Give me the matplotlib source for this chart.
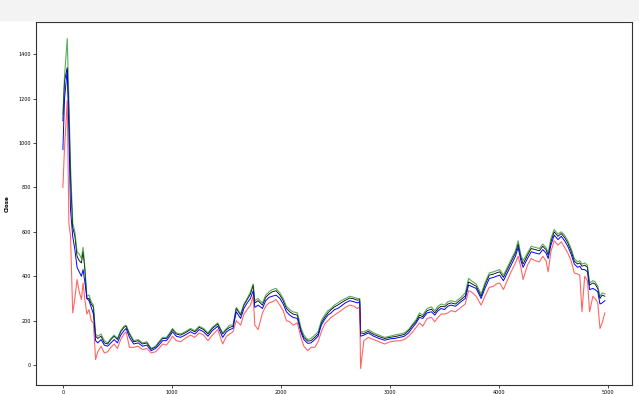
import matplotlib
matplotlib.use("Agg")
import matplotlib.pyplot as plt
from matplotlib.patches import Rectangle

# day index
idx = [0, 15, 40, 55, 70, 90, 110, 130, 150, 170,
       185, 200, 220, 240, 260, 280, 300, 320, 350, 380,
       410, 440, 470, 500, 530, 560, 580, 610, 650, 690,
       730, 770, 810, 850, 880, 915, 950, 980, 1005, 1040,
       1080, 1120, 1170, 1210, 1250, 1290, 1330, 1370, 1420, 1465,
       1500, 1530, 1560, 1590, 1630, 1660, 1690, 1720, 1745, 1760,
       1790, 1830, 1860, 1890, 1920, 1955, 1990, 2020, 2050, 2080,
       2110, 2150, 2185, 2210, 2245, 2275, 2310, 2340, 2370, 2400,
       2430, 2460, 2490, 2520, 2550, 2590, 2630, 2670, 2700, 2722,
       2730, 2760, 2800, 2850, 2900, 2950, 3000, 3040, 3090, 3130,
       3170, 3200, 3240, 3270, 3300, 3340, 3380, 3410, 3440, 3470,
       3500, 3530, 3560, 3600, 3650, 3690, 3720, 3745, 3790, 3835,
       3870, 3910, 3950, 3975, 4005, 4040, 4070, 4110, 4150, 4175,
       4200, 4220, 4260, 4295, 4330, 4370, 4400, 4430, 4450, 4475,
       4505, 4540, 4570, 4600, 4630, 4660, 4690, 4720, 4740, 4760,
       4785, 4810, 4830, 4860, 4880, 4905, 4925, 4945, 4970]

close = [1100, 1280, 1340, 1150, 850, 620, 580, 490, 470, 460,
         510, 440, 300, 300, 275, 260, 130, 120, 130, 100,
         95, 115, 130, 115, 150, 170, 175, 140, 105, 110,
         95, 100, 72, 82, 100, 120, 120, 140, 160, 140,
         135, 145, 160, 150, 170, 160, 140, 165, 185, 140,
         160, 170, 175, 255, 225, 270, 295, 320, 360, 280,
         290, 270, 305, 320, 330, 335, 315, 290, 255, 240,
         230, 225, 155, 125, 108, 110, 125, 140, 190, 215,
         235, 250, 262, 270, 280, 292, 302, 298, 292, 295,
         145, 142, 152, 138, 128, 120, 125, 128, 133, 138,
         155, 175, 198, 225, 218, 245, 252, 235, 255, 265,
         262, 275, 280, 275, 295, 312, 375, 368, 355, 310,
         360, 405, 410, 415, 420, 395, 425, 465, 505, 545,
         485, 455, 495, 525, 520, 515, 535, 520, 495, 555,
         600, 580, 592, 575, 550, 515, 468, 455, 460, 445,
         450, 440, 360, 370, 365, 345, 300, 315, 310]

upper = [1130, 1300, 1470, 1200, 900, 640, 600, 510, 500, 480,
         530, 450, 310, 315, 285, 270, 140, 130, 140, 110,
         100, 120, 135, 120, 155, 175, 180, 145, 110, 115,
         100, 105, 75, 85, 105, 125, 125, 145, 165, 145,
         140, 150, 165, 155, 175, 165, 145, 170, 190, 145,
         165, 180, 180, 260, 230, 275, 300, 330, 365, 290,
         300, 280, 315, 330, 340, 345, 325, 300, 265, 250,
         240, 235, 165, 135, 115, 120, 135, 150, 200, 225,
         245, 255, 270, 280, 290, 300, 310, 305, 300, 300,
         150, 150, 160, 145, 135, 125, 130, 135, 140, 145,
         160, 180, 205, 235, 225, 255, 262, 245, 265, 275,
         270, 285, 290, 285, 305, 325, 390, 380, 365, 320,
         370, 415, 420, 425, 430, 405, 435, 475, 515, 560,
         495, 470, 505, 535, 530, 525, 545, 530, 505, 570,
         610, 590, 600, 585, 560, 525, 480, 465, 470, 455,
         460, 450, 370, 380, 375, 355, 310, 325, 320]

middle = [970, 1200, 1330, 1050, 700, 580, 520, 440, 420, 400,
          430, 380, 300, 290, 260, 230, 110, 100, 115, 90,
          85, 100, 115, 100, 135, 155, 165, 125, 95, 100,
          85, 90, 65, 75, 90, 110, 110, 130, 150, 130,
          125, 135, 150, 140, 160, 150, 130, 155, 175, 125,
          150, 160, 165, 240, 210, 255, 280, 300, 335, 260,
          270, 255, 290, 305, 310, 315, 300, 275, 240, 225,
          215, 210, 145, 115, 98, 100, 115, 130, 180, 205,
          225, 235, 250, 255, 265, 280, 290, 285, 280, 285,
          130, 135, 145, 130, 120, 112, 118, 120, 125, 130,
          145, 165, 190, 215, 210, 235, 240, 225, 245, 255,
          250, 265, 270, 265, 285, 300, 360, 355, 345, 300,
          345, 390, 395, 400, 405, 380, 410, 450, 490, 530,
          470, 440, 480, 510, 505, 500, 520, 505, 480, 540,
          585, 565, 580, 560, 535, 500, 455, 440, 445, 430,
          430, 420, 340, 345, 340, 330, 275, 280, 290]

lower = [800, 980, 1190, 640, 580, 235, 300, 385, 330, 295,
         370, 300, 230, 250, 200, 190, 25, 60, 85, 55,
         60, 80, 95, 75, 115, 140, 150, 80, 80, 85,
         70, 75, 55, 60, 75, 95, 90, 110, 130, 110,
         105, 120, 135, 125, 145, 135, 110, 135, 160, 95,
         130, 140, 150, 200, 180, 230, 250, 270, 310, 180,
         160, 235, 265, 280, 285, 295, 270, 245, 200, 195,
         180, 190, 120, 85, 65, 80, 80, 105, 150, 185,
         200, 215, 225, 235, 245, 260, 270, 265, 255, 262,
         -15, 110, 125, 115, 105, 95, 105, 108, 110, 115,
         130, 145, 170, 190, 175, 210, 215, 195, 215, 230,
         230, 235, 245, 240, 260, 275, 335, 330, 310, 270,
         310, 350, 355, 365, 370, 340, 375, 420, 460, 490,
         440, 385, 450, 480, 470, 465, 490, 470, 420, 510,
         560, 540, 555, 530, 505, 470, 415, 410, 405, 240,
         400, 380, 240, 310, 300, 280, 165, 190, 235]

assert len(idx) == len(close) == len(upper) == len(middle) == len(lower)

fig = plt.figure(figsize=(6.39, 3.94), dpi=100)
fig.patches.append(Rectangle((0, 0.95), 1, 0.05, transform=fig.transFigure,
                             color='#f3f3f3', zorder=0))
ax = fig.add_axes([0.056, 0.023, 0.933, 0.921])

ax.plot(idx, close, color='black', lw=0.6)
ax.plot(idx, upper, color='green', lw=0.8, alpha=0.65)
ax.plot(idx, middle, color='blue', lw=0.7)
ax.plot(idx, lower, color='red', lw=0.8, alpha=0.6)

ax.set_ylabel('Close', fontsize=4, fontweight='bold', labelpad=6)
ax.set_xticks([0, 1000, 2000, 3000, 4000, 5000])
ax.set_yticks([0, 200, 400, 600, 800, 1000, 1200, 1400])
ax.tick_params(labelsize=3.5, length=2, width=0.5, pad=1.5)
for s in ax.spines.values():
    s.set_linewidth(0.8)
    s.set_color('#333333')

fig.savefig('out.png', dpi=100)
